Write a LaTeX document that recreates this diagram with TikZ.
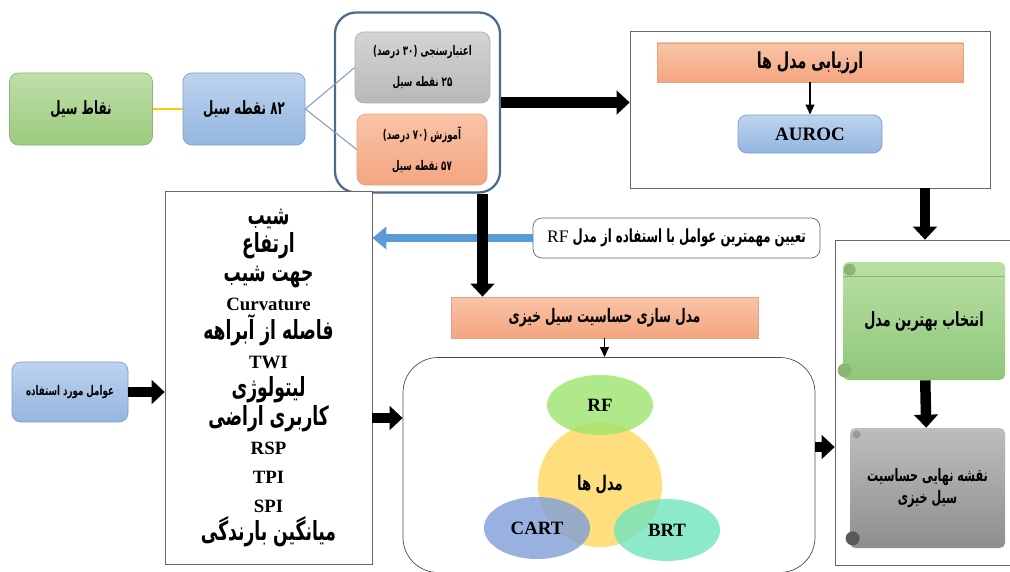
\documentclass[tikz,border=0pt]{standalone}
\usepackage{fontspec}
\setmainfont{Liberation Serif}
\newfontfamily\fa[Script=Arabic, FakeStretch=0.65]{DejaVu Sans}
\TeXXeTstate=1
\usetikzlibrary{arrows.meta,positioning,shapes.geometric}

\definecolor{greentop}{HTML}{BEDFA8}
\definecolor{greenbot}{HTML}{9CCB7E}
\definecolor{greenline}{HTML}{8DB474}
\definecolor{bluetop}{HTML}{BDD3EE}
\definecolor{bluebot}{HTML}{94B6E0}
\definecolor{blueline}{HTML}{7F9DC8}
\definecolor{graytop}{HTML}{D4D4D4}
\definecolor{graybot}{HTML}{B8B8B8}
\definecolor{orangetop}{HTML}{F9C4A8}
\definecolor{orangebot}{HTML}{F4A57F}
\definecolor{orangeline}{HTML}{E5A183}
\definecolor{splitline}{HTML}{4E6A8C}
\definecolor{rfblue}{HTML}{5B9BD5}
\definecolor{vennrf}{HTML}{9BE36B}
\definecolor{vennmid}{HTML}{FFD966}
\definecolor{venncart}{HTML}{7E9ED8}
\definecolor{vennbrt}{HTML}{6FE3BC}
\definecolor{scrollgreentop}{HTML}{B9DFA3}
\definecolor{scrollgreenbot}{HTML}{8FC77A}
\definecolor{scrollgraytop}{HTML}{BDBDBD}
\definecolor{scrollgraybot}{HTML}{8E8E8E}

\newcommand{\rl}[1]{\beginR #1\endR}
\newcommand{\en}[1]{{\rmfamily\fontsize{10.7}{16.4}\selectfont #1}}
\newcommand{\tightlines}{\lineskiplimit=-10pt\relax\lineskip=0pt\relax}

\tikzset{
	wh/.style 2 args={minimum width=#1*0.02cm, minimum height=#2*0.02cm, inner sep=1pt},
	fs/.style 2 args={font=\fa\bfseries\fontsize{#1}{#2}\selectfont\tightlines},
	fabox/.style={rounded corners=5pt, align=center},
	greenbox/.style={fabox, draw=greenline, top color=greentop, bottom color=greenbot},
	bluebox/.style={fabox, draw=blueline, top color=bluetop, bottom color=bluebot},
	graybox/.style={fabox, draw=gray!60, top color=graytop, bottom color=graybot},
	orangebox/.style={fabox, draw=orangeline, top color=orangetop, bottom color=orangebot},
	orangebar/.style={align=center, draw=orangeline, top color=orangetop, bottom color=orangebot},
	frame/.style={draw=black!60, fill=white},
	scroll/.style={rounded corners=3pt, align=center},
	venn/.style={ellipse, fill opacity=0.8, text opacity=1, font=\rmfamily\bfseries\fontsize{10.7}{12}\selectfont},
	bigarrow/.style={line width=0.21cm, -{Triangle[length=0.26cm,width=0.47cm]}},
	thinarrow/.style={line width=1.1pt, -{Triangle[length=0.2cm,width=0.17cm]}},
	bluearrow/.style={color=rfblue, line width=0.17cm, -{Triangle[length=0.28cm,width=0.44cm]}},
	splitlink/.style={color=blueline, line width=0.6pt},
	yellowline/.style={color=orange!40!yellow, line width=0.6pt}
}

\begin{document}
\begin{tikzpicture}[x=0.02cm, y=-0.02cm]
	\useasboundingbox (0,0) rectangle (1010,571);

	% flood points and their split
	\node[greenbox, wh={143}{72}, fs={10.4}{14}] (points) at (81,109) {\rl{نقاط سیل}};
	\node[bluebox, wh={122}{72}, fs={10.4}{14}] (n82) at (244,109) {\rl{۸۲ نقطه سیل}};
	\node[draw=splitline, line width=1.3pt, rounded corners=12pt, wh={165}{180}] (split) at (417.5,102.5) {};
	\node[graybox, wh={135}{71}, fs={7.6}{17.5}] (valid) at (422.5,67.5) {\rl{اعتبارسنجی (۳۰ درصد)}\\\rl{۲۵ نقطه سیل}};
	\node[orangebox, wh={130}{71}, fs={7.6}{17.5}] (train) at (422,149.5) {\rl{آموزش (۷۰ درصد)}\\\rl{۵۷ نقطه سیل}};
	\draw[yellowline] (points) -- (n82);
	\draw[splitlink] (n82.east) -- (valid.west);
	\draw[splitlink] (n82.east) -- (train.west);

	% evaluation
	\node[frame, wh={360}{157}] (evalframe) at (810,109.5) {};
	\node[orangebar, wh={306}{39}, fs={12.5}{14}] (evalbar) at (810,62.5) {\rl{ارزیابی مدل ها}};
	\node[bluebox, wh={144}{38}, font=\rmfamily\bfseries\fontsize{10.8}{12}\selectfont] (auroc) at (810,134) {AUROC};
	\draw[bigarrow] (split.east) -- (split.east -| evalframe.west);
	\draw[thinarrow] (evalbar) -- (auroc);

	% factors
	\node[frame, wh={207}{373}, align=center, fs={15}{16.4}] (factors) at (268.5,378) {\rl{شیب}\\
		\rl{ارتفاع}\\
		\rl{جهت شیب}\\
		\en{Curvature}\\
		\rl{فاصله از آبراهه}\\
		\en{TWI}\\
		\rl{لیتولوژی}\\
		\rl{کاربری اراضی}\\
		\en{RSP}\\
		\en{TPI}\\
		\en{SPI}\\
		\rl{میانگین بارندگی}};
	\node[bluebox, wh={116}{60}, fs={7.6}{9}] (used) at (70,392) {\rl{عوامل مورد استفاده}};
	\draw[bigarrow] (used.east) -- (used.east -| factors.west);

	% RF importance and modelling
	\node[fabox, draw=black!60, fill=white, wh={287}{40}, fs={10.3}{12}] (rfbox) at (676.5,238) {\rl{تعیین مهمترین عوامل با استفاده از مدل \beginL{\rmfamily\mdseries\fontsize{10}{11}\selectfont RF}\endL}};
	\draw[bluearrow] (rfbox.west) -- (rfbox.west -| factors.east);
	\node[orangebar, wh={307}{41}, fs={10.6}{12}] (modelbar) at (604.5,317.5) {\rl{مدل سازی حساسیت سیل خیزی}};
	\coordinate (splitout) at ([xshift=1.3cm]split.south);
	\draw[bigarrow] (splitout) -- (splitout |- modelbar.north);

	% models
	\node[draw=black!70, rounded corners=20pt, wh={412}{215}] (modelframe) at (609,465) {};
	\draw[thinarrow] (modelbar.south) -- (modelbar.south |- modelframe.north);
	\node[circle, fill=vennmid, fill opacity=0.85, text opacity=1, minimum size=124*0.02cm, fs={11.5}{13}] (venncenter) at (600,485) {\rl{مدل ها}};
	\node[venn, fill=vennrf, wh={106}{60}] (rf) at (600,405) {RF};
	\node[venn, fill=venncart, wh={106}{62}] (cart) at (537,528) {CART};
	\node[venn, fill=vennbrt, wh={106}{62}] (brt) at (667,530) {BRT};
	\coordinate (modelin) at ([yshift=0.94cm]modelframe.west);
	\draw[bigarrow] (modelin -| factors.east) -- (modelin);

	% best model and final map
	\node[frame, wh={180}{325}] (bestframe) at (925,402.5) {};
	\node[scroll, top color=scrollgreentop, bottom color=scrollgreenbot, wh={162}{118}, fs={11.2}{14}] (best) at (924,321) {\rl{انتخاب بهترین مدل}};
	\draw[greenline] ([yshift=-0.3cm]best.north west) -- ([yshift=-0.3cm]best.north east);
	\fill[greenline] ([xshift=0.14cm,yshift=-0.16cm]best.north west) circle (6);
	\fill[greenline] ([xshift=0.04cm,yshift=0.2cm]best.south west) circle (7);
	\node[scroll, top color=scrollgraytop, bottom color=scrollgraybot, wh={155}{120}, fs={9.8}{13}] (final) at (927.5,488) {\rl{نقشه نهایی حساسیت}\\\rl{سیل خیزی}};
	\fill[gray!80] ([xshift=0.14cm,yshift=-0.14cm]final.north west) circle (4);
	\fill[gray!70!black] ([xshift=0.06cm,yshift=0.2cm]final.south west) circle (7);
	\draw[bigarrow] (bestframe.north |- evalframe.south) -- (bestframe.north);
	\draw[bigarrow] (best) -- (final);
	\coordinate (modelout) at ([yshift=0.36cm]modelframe.east);
	\draw[bigarrow] (modelout) -- (modelout -| bestframe.west);
\end{tikzpicture}
\end{document}
